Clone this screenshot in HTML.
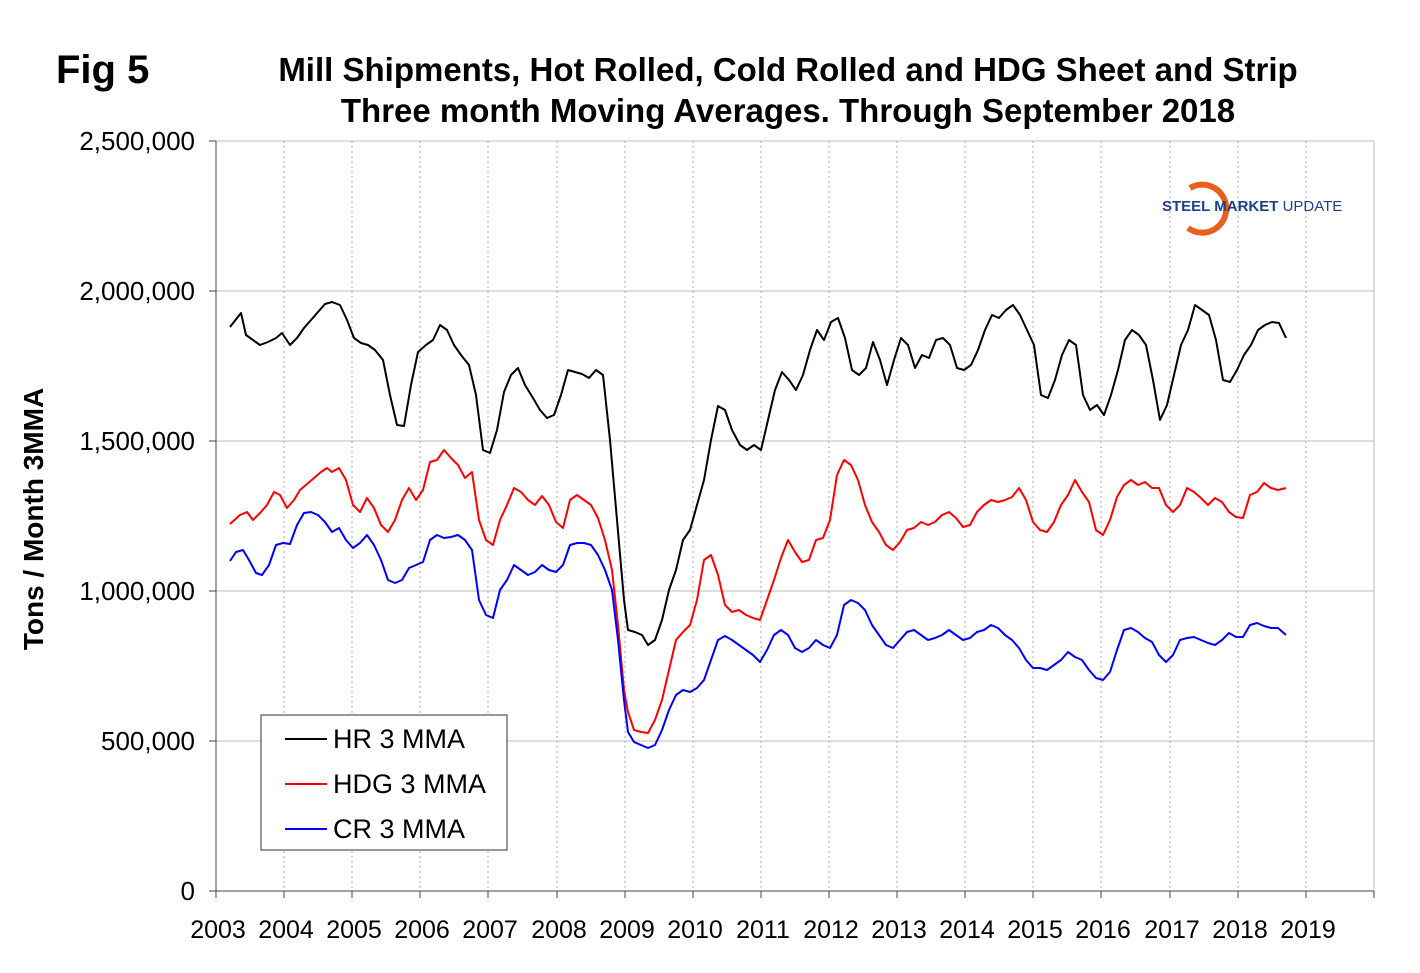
<!DOCTYPE html>
<html><head><style>body{margin:0;background:#fff}svg{display:block;font-family:"Liberation Sans",Arial,sans-serif}</style></head><body>
<svg width="1420" height="973" viewBox="0 0 1420 973">
<text x="56" y="83" font-size="40" font-weight="bold">Fig 5</text>
<text x="788" y="81" font-size="33" font-weight="bold" text-anchor="middle">Mill Shipments, Hot Rolled, Cold Rolled and HDG Sheet and Strip</text>
<text x="788" y="122" font-size="33" font-weight="bold" text-anchor="middle">Three month Moving Averages. Through September 2018</text>
<g stroke="#bbb" stroke-width="1">
<line x1="216" y1="141" x2="1374" y2="141"/><line x1="216" y1="291" x2="1374" y2="291"/><line x1="216" y1="441" x2="1374" y2="441"/><line x1="216" y1="591" x2="1374" y2="591"/><line x1="216" y1="741" x2="1374" y2="741"/>
<line x1="1374" y1="141" x2="1374" y2="891"/>
</g>
<g stroke="#aaa" stroke-width="1" stroke-dasharray="2,3">
<line x1="284" y1="141" x2="284" y2="891"/><line x1="352" y1="141" x2="352" y2="891"/><line x1="420" y1="141" x2="420" y2="891"/><line x1="488" y1="141" x2="488" y2="891"/><line x1="557" y1="141" x2="557" y2="891"/><line x1="625" y1="141" x2="625" y2="891"/><line x1="693" y1="141" x2="693" y2="891"/><line x1="761" y1="141" x2="761" y2="891"/><line x1="829" y1="141" x2="829" y2="891"/><line x1="897" y1="141" x2="897" y2="891"/><line x1="965" y1="141" x2="965" y2="891"/><line x1="1033" y1="141" x2="1033" y2="891"/><line x1="1101" y1="141" x2="1101" y2="891"/><line x1="1170" y1="141" x2="1170" y2="891"/><line x1="1238" y1="141" x2="1238" y2="891"/><line x1="1306" y1="141" x2="1306" y2="891"/>
</g>
<g stroke="#444" stroke-width="1">
<line x1="216" y1="141" x2="216" y2="891"/><line x1="216" y1="891" x2="1374" y2="891"/>
<line x1="209" y1="141" x2="216" y2="141"/><line x1="209" y1="291" x2="216" y2="291"/><line x1="209" y1="441" x2="216" y2="441"/><line x1="209" y1="591" x2="216" y2="591"/><line x1="209" y1="741" x2="216" y2="741"/><line x1="209" y1="891" x2="216" y2="891"/>
<line x1="216" y1="891" x2="216" y2="898"/><line x1="284" y1="891" x2="284" y2="898"/><line x1="352" y1="891" x2="352" y2="898"/><line x1="420" y1="891" x2="420" y2="898"/><line x1="488" y1="891" x2="488" y2="898"/><line x1="557" y1="891" x2="557" y2="898"/><line x1="625" y1="891" x2="625" y2="898"/><line x1="693" y1="891" x2="693" y2="898"/><line x1="761" y1="891" x2="761" y2="898"/><line x1="829" y1="891" x2="829" y2="898"/><line x1="897" y1="891" x2="897" y2="898"/><line x1="965" y1="891" x2="965" y2="898"/><line x1="1033" y1="891" x2="1033" y2="898"/><line x1="1101" y1="891" x2="1101" y2="898"/><line x1="1170" y1="891" x2="1170" y2="898"/><line x1="1238" y1="891" x2="1238" y2="898"/><line x1="1306" y1="891" x2="1306" y2="898"/><line x1="1374" y1="891" x2="1374" y2="898"/>
</g>
<g font-size="26" text-anchor="end">
<text x="195" y="150">2,500,000</text><text x="195" y="300">2,000,000</text><text x="195" y="450">1,500,000</text><text x="195" y="600">1,000,000</text><text x="195" y="750">500,000</text><text x="195" y="900">0</text>
</g>
<g font-size="25" text-anchor="middle">
<text x="218" y="938">2003</text><text x="286" y="938">2004</text><text x="354" y="938">2005</text><text x="422" y="938">2006</text><text x="490" y="938">2007</text><text x="559" y="938">2008</text><text x="627" y="938">2009</text><text x="695" y="938">2010</text><text x="763" y="938">2011</text><text x="831" y="938">2012</text><text x="899" y="938">2013</text><text x="967" y="938">2014</text><text x="1035" y="938">2015</text><text x="1103" y="938">2016</text><text x="1172" y="938">2017</text><text x="1240" y="938">2018</text><text x="1308" y="938">2019</text>
</g>
<text transform="translate(43,519) rotate(-90)" font-size="28" font-weight="bold" text-anchor="middle">Tons / Month 3MMA</text>
<path d="M1190,188 A24,24 0 1 1 1188,228" fill="none" stroke="#e8601c" stroke-width="6"/>
<text x="1162" y="211" font-size="15" font-weight="bold" fill="#1f3f8a">STEEL MARKET <tspan font-weight="normal">UPDATE</tspan></text>
<g fill="none" stroke-width="2" stroke-linejoin="round">
<polyline stroke="#000" points="230,327 241,313 246,335 253,340 260,345 268,342 276,338 282,333 290,345 297,338 304,328 311,320 318,312 325,304 332,302 340,305 347,320 354,338 361,343 368,345 375,350 383,360 390,395 397,425 404,426 411,385 418,352 426,345 433,340 440,325 447,330 454,345 461,355 469,365 476,395 483,450 490,453 497,430 504,392 511,375 518,368 525,385 533,398 540,410 547,418 554,415 561,395 568,370 575,372 582,374 589,378 596,370 603,375 610,440 617,520 624,600 628,630 635,632 642,635 648,645 655,640 662,620 669,590 676,570 683,540 690,530 697,505 704,480 711,440 718,406 725,410 732,430 740,445 747,450 754,445 761,450 768,420 775,390 782,372 789,380 796,390 803,375 810,350 817,330 824,340 831,322 838,318 845,338 852,370 859,375 866,368 873,342 880,360 887,385 894,360 901,338 908,345 915,368 922,355 929,358 936,340 943,338 950,345 957,368 964,370 971,365 978,350 985,330 992,315 999,318 1006,310 1013,305 1020,315 1027,330 1034,345 1041,395 1048,398 1055,380 1062,355 1069,340 1076,345 1083,395 1090,410 1097,405 1104,415 1111,395 1118,370 1125,340 1132,330 1139,335 1146,345 1153,380 1160,420 1167,405 1174,375 1181,345 1188,330 1195,305 1202,310 1209,315 1216,340 1223,380 1230,382 1237,370 1244,355 1251,345 1258,330 1265,325 1272,322 1279,323 1286,338"/>
<polyline stroke="#f00" points="230,524 240,515 247,512 253,520 260,513 267,505 274,492 280,495 287,508 294,500 300,490 307,484 314,478 321,472 327,468 332,472 339,468 346,480 353,505 360,512 367,498 374,508 381,525 388,532 395,520 402,500 409,488 416,500 423,490 430,462 437,460 444,450 451,458 458,465 465,478 472,472 479,520 486,540 493,545 500,520 507,505 514,488 521,492 528,500 535,505 542,496 549,505 556,522 563,528 570,500 577,495 584,500 591,505 598,518 605,540 612,570 618,625 624,690 628,712 634,730 641,732 648,733 655,720 662,700 669,670 676,640 683,632 690,625 697,600 704,560 711,555 718,575 725,605 732,612 739,610 746,615 753,618 760,620 767,600 774,580 781,558 788,540 795,552 802,562 809,560 816,540 823,538 830,520 837,475 844,460 851,465 858,480 865,505 872,522 879,532 886,545 893,550 900,542 907,530 914,528 921,522 928,525 935,522 942,515 949,512 956,518 963,527 970,525 977,512 984,505 991,500 998,502 1005,500 1012,497 1019,488 1026,500 1033,522 1040,530 1047,532 1054,522 1061,505 1068,495 1075,480 1082,492 1089,502 1096,530 1103,535 1110,520 1117,497 1124,485 1131,480 1138,485 1145,482 1152,488 1159,488 1166,505 1173,512 1180,505 1187,488 1194,492 1201,498 1208,505 1215,498 1222,502 1229,512 1236,517 1243,518 1250,495 1257,492 1264,483 1271,488 1278,490 1286,488"/>
<polyline stroke="#00f" points="230,561 236,552 243,550 249,560 256,573 262,575 269,565 276,545 283,543 290,544 297,525 304,513 311,512 318,515 325,522 332,532 339,528 346,540 353,548 360,543 367,535 374,545 381,560 388,580 395,583 402,580 409,568 416,565 423,562 430,540 437,535 444,538 451,537 458,535 465,540 472,550 479,600 486,615 493,618 500,590 507,580 514,565 521,570 528,575 535,572 542,565 549,570 556,572 563,565 570,545 577,543 584,543 591,545 598,555 605,570 612,590 618,640 624,700 628,732 634,742 641,745 648,748 655,745 662,730 669,710 676,695 683,690 690,692 697,688 704,680 711,660 718,640 725,636 732,640 739,645 746,650 753,655 760,662 767,650 774,635 781,630 788,635 795,648 802,652 809,648 816,640 823,645 830,648 837,635 844,605 851,600 858,603 865,610 872,625 879,635 886,645 893,648 900,640 907,632 914,630 921,635 928,640 935,638 942,635 949,630 956,635 963,640 970,638 977,632 984,630 991,625 998,628 1005,635 1012,640 1019,648 1026,660 1033,668 1040,668 1047,670 1054,665 1061,660 1068,652 1075,657 1082,660 1089,670 1096,678 1103,680 1110,672 1117,650 1124,630 1131,628 1138,632 1145,638 1152,642 1159,655 1166,662 1173,655 1180,640 1187,638 1194,637 1201,640 1208,643 1215,645 1222,640 1229,633 1236,637 1243,637 1250,625 1257,623 1264,626 1271,628 1278,628 1286,635"/>
</g>
<rect x="261" y="715" width="246" height="135" fill="#fff" stroke="#333" stroke-width="1"/>
<g stroke-width="2"><line x1="285" y1="739" x2="327" y2="739" stroke="#000"/><line x1="285" y1="784" x2="327" y2="784" stroke="#f00"/><line x1="285" y1="829" x2="327" y2="829" stroke="#00f"/></g>
<g font-size="27"><text x="333" y="748">HR 3 MMA</text><text x="333" y="793">HDG 3 MMA</text><text x="333" y="838">CR 3 MMA</text></g>
</svg>
</body></html>
